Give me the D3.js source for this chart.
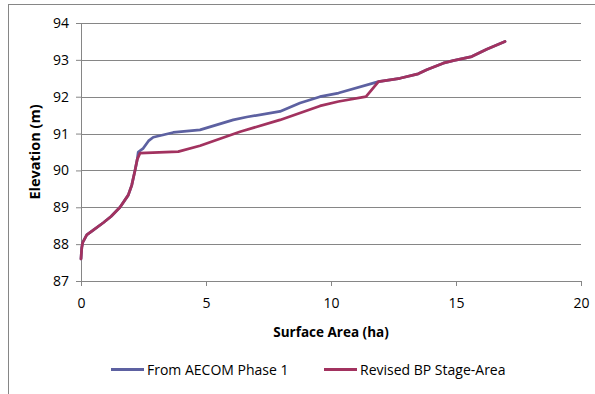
<!DOCTYPE html>
<html>
<head>
<meta charset="utf-8">
<script src="https://cdn.jsdelivr.net/npm/d3@7"></script>
<style>
  body { margin: 0; background: #fff; }
  text { font-family: 'Open Sans', sans-serif; fill: #000; }
</style>
</head>
<body>
<svg id="chart" width="595" height="394"></svg>
<script>
// From AECOM Phase 1
const areaAecom = [0.0, 0.03, 0.07, 0.23, 0.49, 0.89, 1.2, 1.56, 1.89, 2.03, 2.16, 2.25, 2.29, 2.49, 2.7, 2.89, 3.69, 4.76, 6.09, 6.63, 7.96, 8.76, 9.56, 10.3, 11.9, 12.76, 13.49, 13.83, 14.49, 14.89, 15.63, 16.23, 16.96]
const elevAecom = [87.6, 87.9, 88.05, 88.25, 88.38, 88.58, 88.75, 89.0, 89.33, 89.6, 90.0, 90.3, 90.5, 90.6, 90.8, 90.9, 91.03, 91.1, 91.37, 91.45, 91.6, 91.83, 92.0, 92.1, 92.41, 92.5, 92.62, 92.73, 92.91, 92.98, 93.09, 93.29, 93.5]
// Revised BP Stage-Area
const areaRevised = [0.0, 0.03, 0.07, 0.23, 0.49, 0.89, 1.2, 1.56, 1.89, 2.03, 2.16, 2.25, 2.36, 3.89, 4.76, 6.36, 7.96, 9.56, 10.3, 11.4, 11.9, 12.76, 13.49, 13.83, 14.49, 14.89, 15.63, 16.23, 16.96]
const elevRevised = [87.6, 87.9, 88.05, 88.25, 88.38, 88.58, 88.75, 89.0, 89.33, 89.6, 90.0, 90.3, 90.47, 90.51, 90.67, 91.05, 91.37, 91.75, 91.87, 92.0, 92.41, 92.5, 92.62, 92.73, 92.91, 92.98, 93.09, 93.29, 93.5]

const seriesNames = ['From AECOM Phase 1', 'Revised BP Stage-Area']
const colors = ['#5d61a1', '#a2325f']
const xTicks = [0, 5, 10, 15, 20]
const yTicks = [87, 88, 89, 90, 91, 92, 93, 94]

const series = [
  areaAecom.map((a, i) => ({ x: a, y: elevAecom[i] })),
  areaRevised.map((a, i) => ({ x: a, y: elevRevised[i] }))
]

const svg = d3.select('#chart')
const margin = { left: 81, right: 14, top: 23, bottom: 113 }
const width = 595 - margin.left - margin.right
const height = 394 - margin.top - margin.bottom

// outer chart border
svg.append('rect')
  .attr('x', 8.5).attr('y', 4.5)
  .attr('width', 600).attr('height', 400)
  .attr('fill', 'none').attr('stroke', '#868686')

const x = d3.scaleLinear().domain([0, 20]).range([0, width])
const y = d3.scaleLinear().domain([87, 94]).range([height, 0])

const g = svg.append('g').attr('transform', 'translate(' + margin.left + ',' + margin.top + ')')

// gridlines
g.append('g')
  .selectAll('line')
  .data(yTicks.slice(1))
  .enter().append('line')
  .attr('x1', 0).attr('x2', width)
  .attr('y1', d => Math.round(y(d)) + 0.5).attr('y2', d => Math.round(y(d)) + 0.5)
  .attr('stroke', '#868686')

const xAxis = g.append('g')
  .attr('transform', 'translate(0,' + height + ')')
  .call(d3.axisBottom(x).tickValues(xTicks).tickFormat(d3.format('d')).tickSize(5).tickPadding(12))
const yAxis = g.append('g')
  .call(d3.axisLeft(y).tickValues(yTicks).tickFormat(d3.format('d')).tickSize(5).tickPadding(7))

;[xAxis, yAxis].forEach(ax => {
  ax.select('.domain').attr('stroke', '#868686')
  ax.selectAll('.tick line').attr('stroke', '#868686')
  ax.selectAll('.tick text').style('font-size', '14px').attr('fill', '#000')
})

const line = d3.line()
  .x(d => x(d.x))
  .y(d => y(d.y))

series.forEach((s, i) => {
  g.append('path')
    .datum(s)
    .attr('d', line)
    .attr('fill', 'none')
    .attr('stroke', colors[i])
    .attr('stroke-width', 2.75)
    .attr('stroke-linejoin', 'round')
    .attr('stroke-linecap', 'round')
})

// axis titles
svg.append('text')
  .attr('x', margin.left + width / 2)
  .attr('y', 337)
  .attr('text-anchor', 'middle')
  .style('font-size', '13.5px')
  .style('font-weight', 'bold')
  .text('Surface Area (ha)')

svg.append('text')
  .attr('transform', 'translate(40,' + (margin.top + height / 2) + ') rotate(-90)')
  .attr('text-anchor', 'middle')
  .style('font-size', '14.5px')
  .style('font-weight', 'bold')
  .text('Elevation (m)')

// legend
const legendX = [111, 324]
seriesNames.forEach((name, i) => {
  const lg = svg.append('g').attr('transform', 'translate(' + legendX[i] + ',369.5)')
  lg.append('line')
    .attr('x1', 0).attr('x2', 33)
    .attr('stroke', colors[i]).attr('stroke-width', 3)
  lg.append('text')
    .attr('x', 36).attr('y', 5)
    .style('font-size', '14px')
    .text(name)
})
</script>
</body>
</html>
